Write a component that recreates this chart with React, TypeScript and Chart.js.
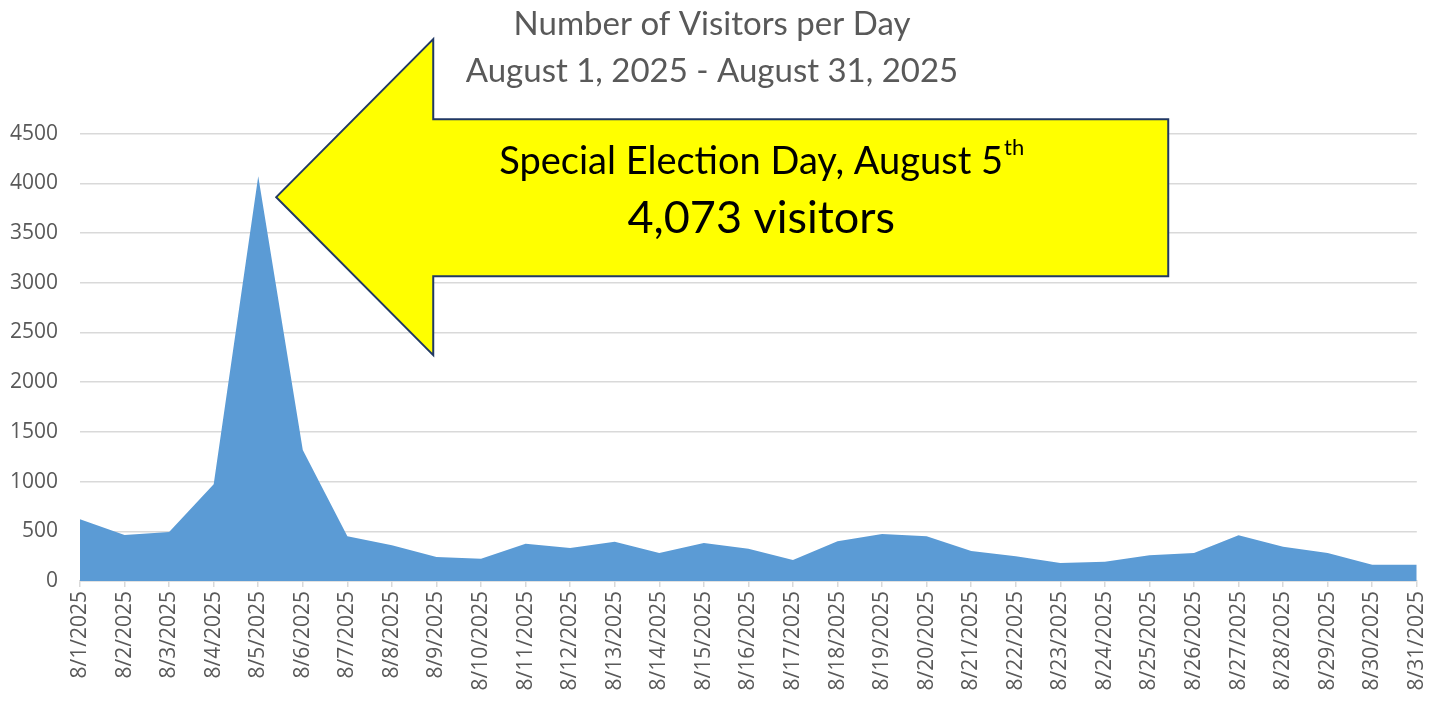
import React, { useEffect, useRef } from "react";
import { Chart, registerables } from "chart.js";

Chart.register(...registerables);

const dates: string[] = Array.from({ length: 31 }, (_, i) => `8/${i + 1}/2025`);
const visitors: number[] = [
  621, 463, 493, 973, 4073, 1318, 450, 359, 241, 225,
  375, 332, 395, 282, 382, 325, 211, 399, 473, 450,
  302, 248, 181, 194, 258, 282, 460, 345, 282, 164, 164,
];
const titleLines: string[] = ["Number of Visitors per Day", "August 1, 2025 - August 31, 2025"];
const calloutLine1 = "Special Election Day, August 5";
const calloutSup = "th";
const calloutLine2 = "4,073 visitors";
const peakIndex = 4;

const calloutPlugin = {
  id: "callout",
  afterDraw(chart: any) {
    const ctx = chart.ctx;
    const xs = chart.scales.x;
    const ys = chart.scales.y;
    const tipX = xs.getPixelForValue(peakIndex) + 18;
    const tipY = ys.getPixelForValue(visitors[peakIndex]) + 21;
    const headX = tipX + 157;
    const rightX = tipX + 892;
    ctx.save();
    ctx.beginPath();
    ctx.moveTo(tipX, tipY);
    ctx.lineTo(headX, tipY - 158);
    ctx.lineTo(headX, tipY - 78);
    ctx.lineTo(rightX, tipY - 78);
    ctx.lineTo(rightX, tipY + 79);
    ctx.lineTo(headX, tipY + 79);
    ctx.lineTo(headX, tipY + 158);
    ctx.closePath();
    ctx.fillStyle = "#FFFF00";
    ctx.fill();
    ctx.lineWidth = 2;
    ctx.strokeStyle = "#203864";
    ctx.stroke();

    const cx = tipX + 485;
    ctx.fillStyle = "#000000";
    ctx.textBaseline = "alphabetic";
    ctx.font = "38px Lato";
    const w1 = ctx.measureText(calloutLine1).width;
    ctx.font = "22px Lato";
    const w2 = ctx.measureText(calloutSup).width;
    const start = cx - (w1 + w2) / 2;
    ctx.font = "38px Lato";
    ctx.textAlign = "left";
    ctx.fillText(calloutLine1, start, tipY - 23);
    ctx.font = "22px Lato";
    ctx.fillText(calloutSup, start + w1 + 1, tipY - 42);
    ctx.font = "45px Lato";
    ctx.textAlign = "center";
    ctx.fillText(calloutLine2, cx, tipY + 36);
    ctx.restore();
  },
};

export default function App() {
  const ref = useRef<HTMLCanvasElement | null>(null);
  useEffect(() => {
    if (!ref.current) return;
    const chart = new Chart(ref.current, {
      type: "line",
      data: {
        labels: dates,
        datasets: [
          {
            data: visitors,
            backgroundColor: "#5B9BD5",
            borderWidth: 0,
            borderColor: "#5B9BD5",
            pointRadius: 0,
            fill: "origin",
            tension: 0,
          },
        ],
      },
      options: {
        responsive: false,
        devicePixelRatio: 1,
        animation: false,
        events: [],
        layout: { padding: { left: 0, right: 22, top: 0, bottom: 0 } },
        plugins: {
          legend: { display: false },
          tooltip: { enabled: false },
          title: {
            display: true,
            text: titleLines,
            color: "#595959",
            font: { family: "Lato", size: 33, lineHeight: 1.45, weight: "normal" },
            padding: { top: 0, bottom: 38 },
          },
        },
        scales: {
          x: {
            offset: false,
            afterFit: (s: any) => {
              s.height = 122;
            },
            grid: {
              drawOnChartArea: false,
              drawTicks: true,
              tickLength: 6,
              color: "#d9d9d9",
              lineWidth: 1.5,
            },
            border: { display: true, color: "#d9d9d9", width: 1.5 },
            ticks: {
              autoSkip: false,
              minRotation: 90,
              maxRotation: 90,
              padding: 4,
              color: "#595959",
              font: { family: "Open Sans", size: 21 },
            },
          },
          y: {
            min: 0,
            max: 4500,
            afterFit: (s: any) => {
              s.width = 80;
            },
            border: { display: false },
            grid: { color: "#d9d9d9", lineWidth: 1.5, drawTicks: false },
            ticks: {
              stepSize: 500,
              padding: 22,
              color: "#595959",
              font: { family: "Open Sans", size: 21 },
              callback: (v: any) => String(v),
            },
          },
        },
      },
      plugins: [calloutPlugin],
    });
    return () => chart.destroy();
  }, []);
  return (
    <div style={{ position: "absolute", left: 0, top: 0, width: 1446, height: 703, background: "#fff" }}>
      <canvas ref={ref} width={1446} height={703} />
    </div>
  );
}
